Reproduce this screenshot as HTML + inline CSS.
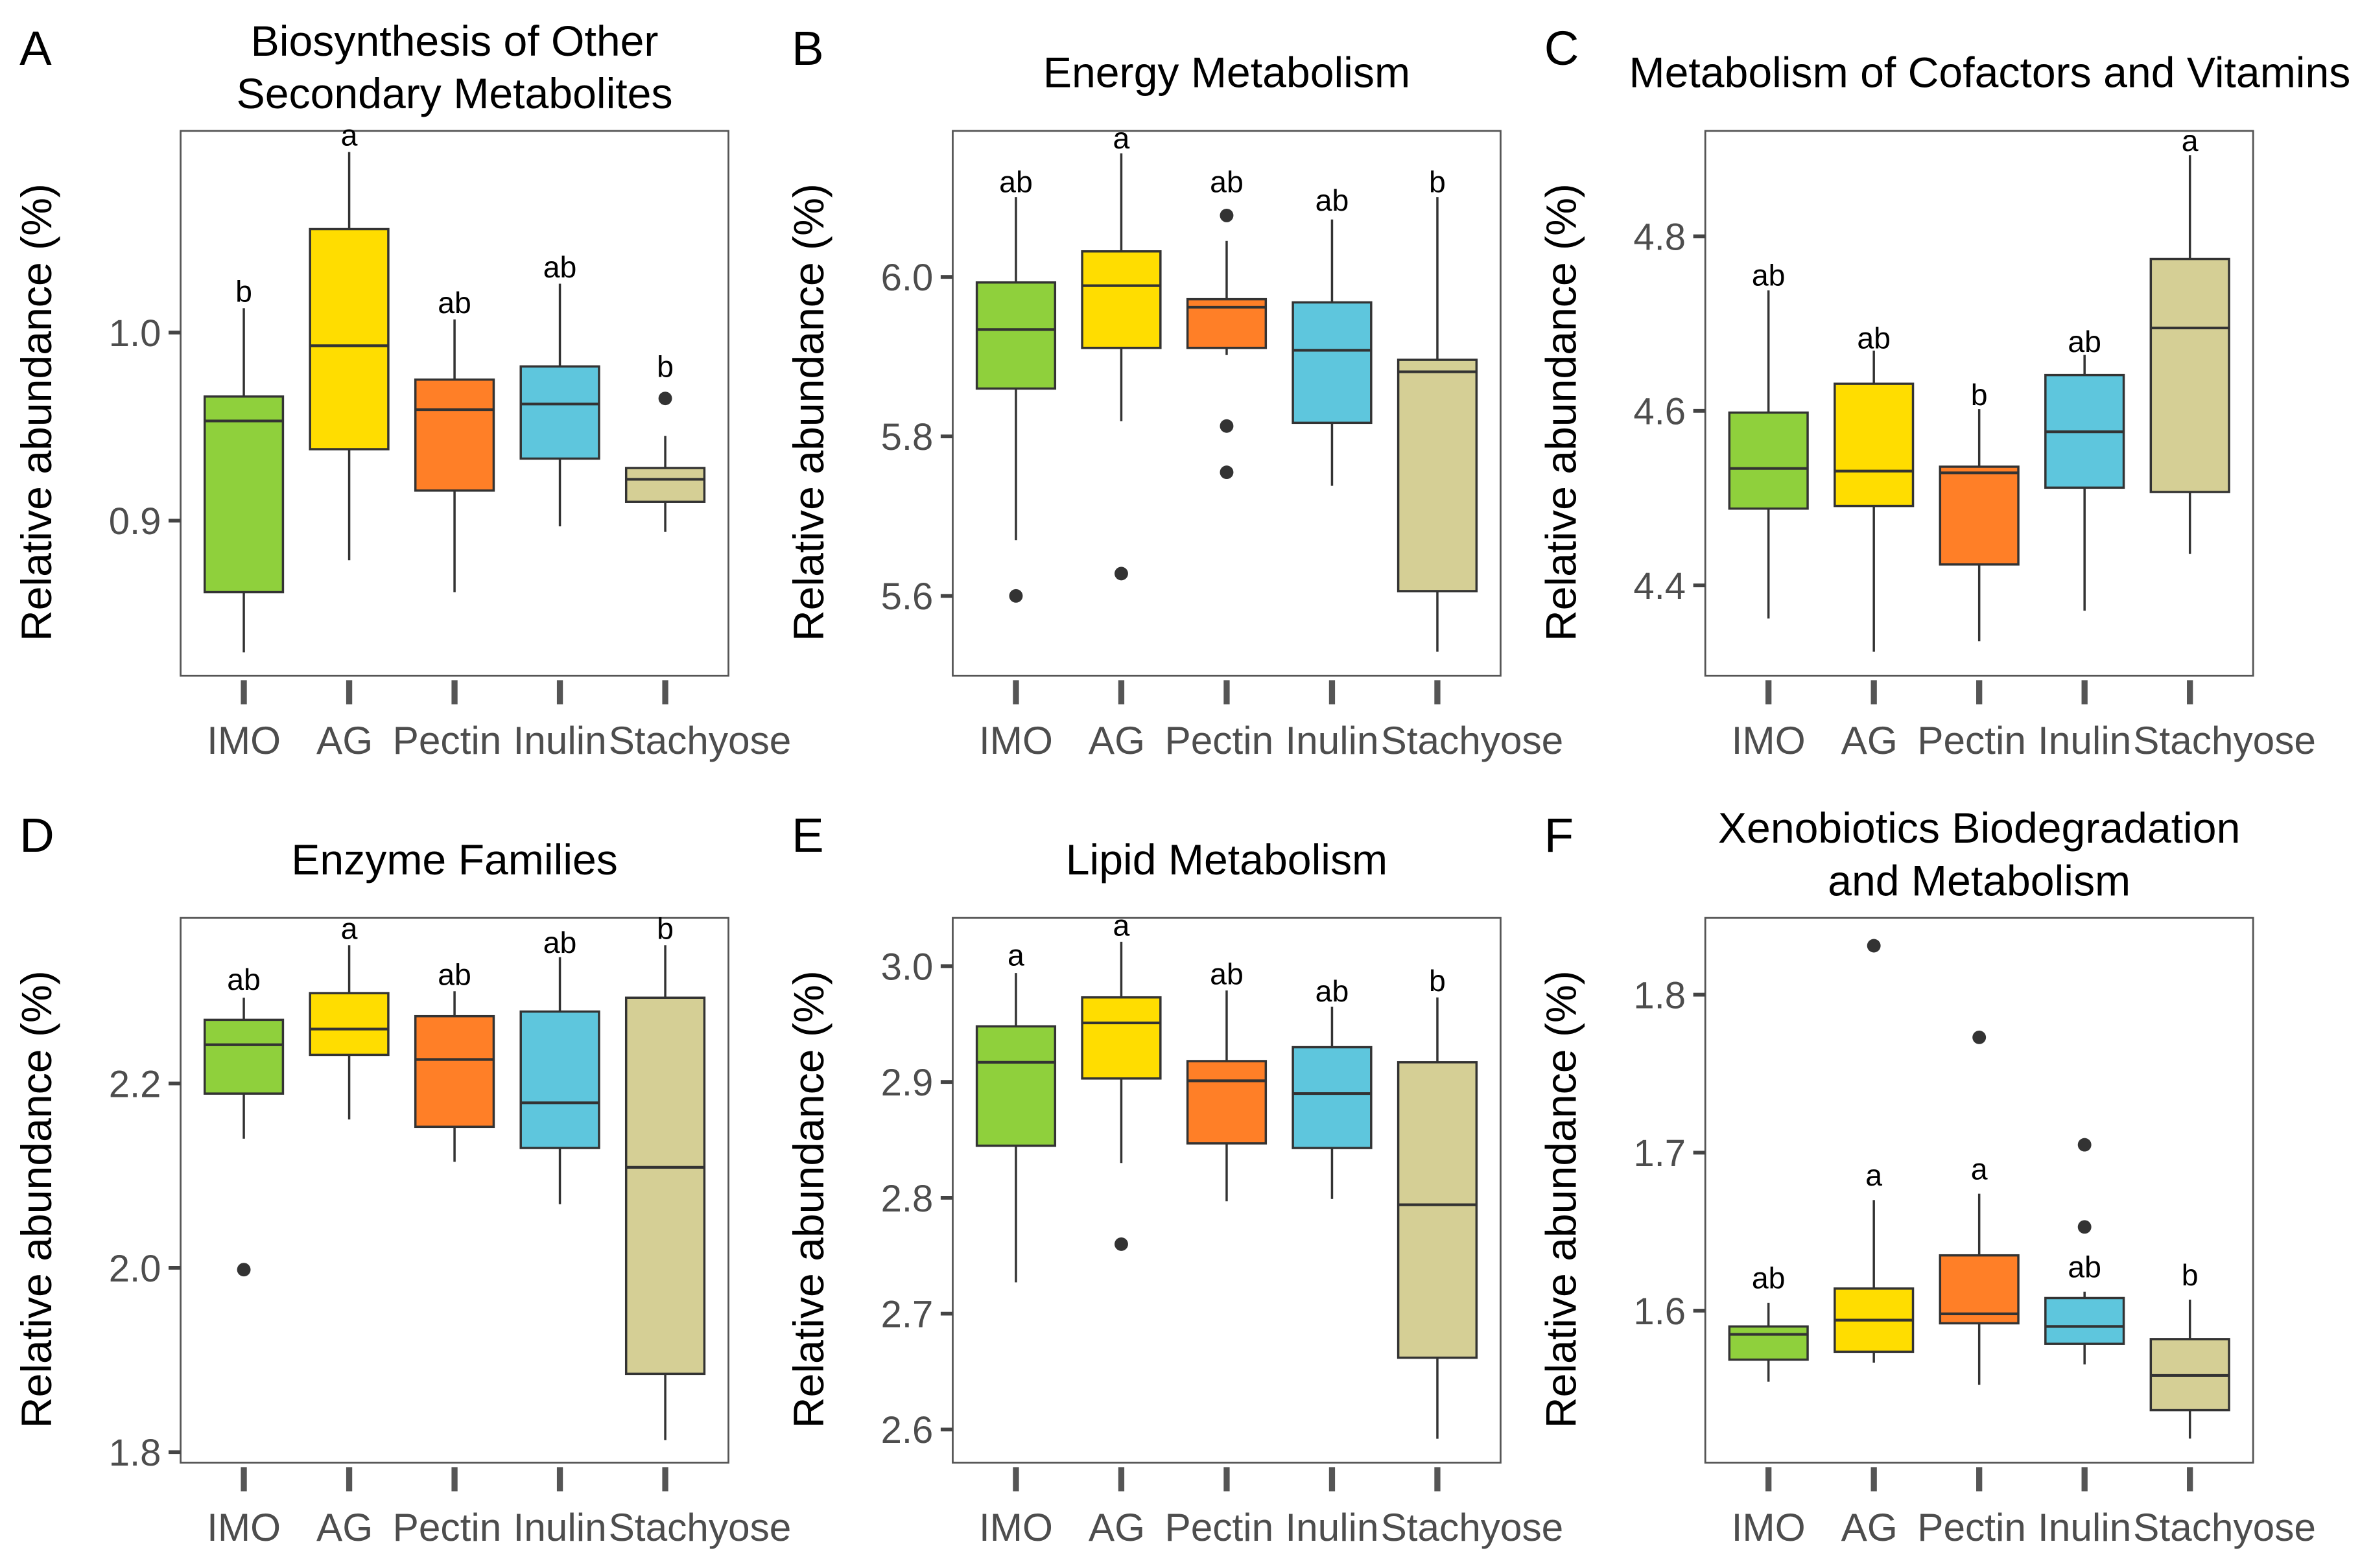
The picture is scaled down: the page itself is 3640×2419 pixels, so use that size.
<!DOCTYPE html>
<html><head><meta charset="utf-8"><style>
html,body{margin:0;padding:0;background:#fff;}
svg{display:block;}
text{font-family:"Liberation Sans",Arial,sans-serif;}
</style></head><body>
<svg id="chart" width="3640" height="2419" viewBox="0 0 1568 1042" xmlns="http://www.w3.org/2000/svg"></svg>
<script>
const categories = ["IMO","AG","Pectin","Inulin","Stachyose"];
const colors = ["#8fd03c","#ffdd00","#ff7f27","#5ec6dd","#d5cf95"];
// per-panel data: [whiskerLow, q1, median, q3, whiskerHigh]
const statsA = [[0.830,0.862,0.953,0.966,1.013],[0.879,0.938,0.993,1.055,1.096],[0.862,0.916,0.959,0.975,1.007],[0.897,0.933,0.962,0.982,1.026],[0.894,0.910,0.922,0.928,0.945]];
const outliersA = [[],[],[],[],[0.965]];
const lettersA = ["b","a","ab","ab","b"];
const letterPosA = [1.018,1.101,1.012,1.031,0.978];
const statsB = [[5.670,5.860,5.934,5.993,6.100],[5.819,5.911,5.989,6.032,6.155],[5.902,5.911,5.962,5.972,6.045],[5.738,5.817,5.908,5.968,6.072],[5.530,5.606,5.881,5.896,6.100]];
const outliersB = [[5.600],[5.628],[6.077,5.813,5.755],[],[]];
const lettersB = ["ab","a","ab","ab","b"];
const letterPosB = [6.11,6.165,6.11,6.087,6.11];
const statsC = [[4.362,4.488,4.534,4.598,4.738],[4.324,4.491,4.531,4.631,4.669],[4.336,4.424,4.529,4.536,4.602],[4.371,4.512,4.576,4.641,4.664],[4.436,4.507,4.695,4.774,4.893]];
const outliersC = [[],[],[],[],[]];
const lettersC = ["ab","ab","b","ab","a"];
const letterPosC = [4.747,4.675,4.610,4.671,4.901];
const statsD = [[2.140,2.189,2.242,2.269,2.293],[2.161,2.231,2.259,2.298,2.350],[2.115,2.153,2.226,2.273,2.300],[2.069,2.130,2.179,2.278,2.337],[1.813,1.885,2.109,2.293,2.350]];
const outliersD = [[1.998],[],[],[],[]];
const lettersD = ["ab","a","ab","ab","b"];
const letterPosD = [2.305,2.360,2.310,2.345,2.360];
const statsE = [[2.727,2.845,2.917,2.948,2.994],[2.830,2.903,2.951,2.973,3.021],[2.797,2.847,2.901,2.918,2.979],[2.799,2.843,2.890,2.930,2.965],[2.592,2.662,2.794,2.917,2.973]];
const outliersE = [[],[2.760],[],[],[]];
const lettersE = ["a","a","ab","ab","b"];
const letterPosE = [3.003,3.029,2.987,2.972,2.981];
const statsF = [[1.555,1.569,1.585,1.590,1.605],[1.567,1.574,1.594,1.614,1.670],[1.553,1.592,1.598,1.635,1.674],[1.566,1.579,1.590,1.608,1.612],[1.519,1.537,1.559,1.582,1.607]];
const outliersF = [[],[1.831],[1.773],[1.705,1.653],[]];
const lettersF = ["ab","a","a","ab","b"];
const letterPosF = [1.616,1.681,1.685,1.623,1.618];
const ticksA=[0.9,1.0], ticksB=[5.6,5.8,6.0], ticksC=[4.4,4.6,4.8], ticksD=[1.8,2.0,2.2], ticksE=[2.6,2.7,2.8,2.9,3.0], ticksF=[1.6,1.7,1.8];

const panels = [
 {id:"a",tag:"A",title:["Biosynthesis of Other","Secondary Metabolites"],x0:120,y0:87,dom:[0.8176,1.1072],stats:statsA,out:outliersA,let:lettersA,lp:letterPosA,ticks:ticksA},
 {id:"b",tag:"B",title:["Energy Metabolism"],x0:633,y0:87,dom:[5.5,6.183],stats:statsB,out:outliersB,let:lettersB,lp:letterPosB,ticks:ticksB},
 {id:"c",tag:"C",title:["Metabolism of Cofactors and Vitamins"],x0:1133,y0:87,dom:[4.2966,4.9207],stats:statsC,out:outliersC,let:lettersC,lp:letterPosC,ticks:ticksC},
 {id:"d",tag:"D",title:["Enzyme Families"],x0:120,y0:610,dom:[1.7886,2.3796],stats:statsD,out:outliersD,let:lettersD,lp:letterPosD,ticks:ticksD},
 {id:"e",tag:"E",title:["Lipid Metabolism"],x0:633,y0:610,dom:[2.5714,3.0416],stats:statsE,out:outliersE,let:lettersE,lp:letterPosE,ticks:ticksE},
 {id:"f",tag:"F",title:["Xenobiotics Biodegradation","and Metabolism"],x0:1133,y0:610,dom:[1.5038,1.8486],stats:statsF,out:outliersF,let:lettersF,lp:letterPosF,ticks:ticksF}
];
const labelShift=[0,-3,-5,0,23];
const W=364,H=362,NS="http://www.w3.org/2000/svg";
const svg=document.getElementById("chart");
function mk(tag,attrs,parent,txt){const e=document.createElementNS(NS,tag);for(const k in attrs)e.setAttribute(k,attrs[k]);if(txt!==undefined)e.textContent=txt;parent.appendChild(e);return e;}
panels.forEach(p=>{
 const g=mk("g",{},svg);
 
 
 const ys=v=>p.y0+H-(v-p.dom[0])/(p.dom[1]-p.dom[0])*H;
 const xs=i=>p.x0+42+i*70;
 const cx=p.x0+W/2;
 const tg=mk("text",{x:p.x0-107,y:p.y0-44,"font-size":32,fill:"#000"},g,p.tag);
 
 
 p.title.forEach((t,i)=>{
  const ty=p.title.length===2?p.y0-50+i*35:p.y0-29;
  const te=mk("text",{x:cx+(p.id==="c"?7:0),y:ty,"font-size":28.5,"text-anchor":"middle",fill:"#000"},g,t);
  
  
 });
 const fr=mk("rect",{x:p.x0,y:p.y0,width:W,height:H,fill:"none",stroke:"#555","stroke-width":1.2},g);
 
 
 const yt=mk("text",{transform:`translate(${p.x0-86},${p.y0+H/2+6}) rotate(-90)`,"font-size":28.5,"text-anchor":"middle",fill:"#000"},g,"Relative abundance (%)");
 
 
 p.ticks.forEach(t=>{
  const y=ys(t);
  const tl=mk("line",{x1:p.x0-8,x2:p.x0,y1:y,y2:y,stroke:"#444","stroke-width":2.5},g);
  
  
  const tx=mk("text",{x:p.x0-13,y:y+9,"font-size":25,"text-anchor":"end",fill:"#4d4d4d"},g,t.toFixed(1));
  
  
 });
 categories.forEach((c,i)=>{
  const x=xs(i),s=p.stats[i],bw=26;
  const xt=mk("line",{x1:x,x2:x,y1:p.y0+H+3,y2:p.y0+H+19,stroke:"#555","stroke-width":4},g);
  
  
  const xl=mk("text",{x:x+labelShift[i],y:p.y0+H+52,"font-size":26,"text-anchor":"middle",fill:"#4d4d4d"},g,c);
  
  
  const wl=mk("line",{x1:x,x2:x,y1:ys(s[0]),y2:ys(s[4]),stroke:"#333","stroke-width":1.5},g);
  
  
  const b=mk("rect",{x:x-bw,y:ys(s[3]),width:2*bw,height:ys(s[1])-ys(s[3]),fill:colors[i],stroke:"#333","stroke-width":1.5},g);
  
  
  const m=mk("line",{x1:x-bw,x2:x+bw,y1:ys(s[2]),y2:ys(s[2]),stroke:"#333","stroke-width":1.8},g);
  
  
  p.out[i].forEach(o=>{
   const d=mk("circle",{cx:x,cy:ys(o),r:4.5,fill:"#333"},g);
   
   
  });
  const lt=mk("text",{x:x,y:ys(p.lp[i])+2,"font-size":20,"text-anchor":"middle",fill:"#000"},g,p.let[i]);
  
  
 });
});
</script>
</body></html>
